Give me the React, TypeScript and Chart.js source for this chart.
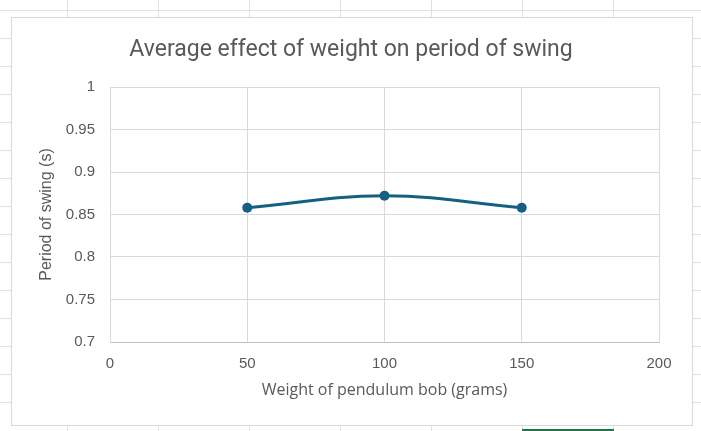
import React, { useEffect, useRef } from "react";
import { Chart, registerables } from "chart.js";

Chart.register(...registerables);

const chartTitle = "Average effect of weight on period of swing";
const xAxisTitle = "Weight of pendulum bob (grams)";
const yAxisTitle = "Period of swing (s)";
const weights = [50, 100, 150];
const periods = [0.858, 0.872, 0.858];
const xRange = [0, 200];
const xStep = 50;
const yRange = [0.7, 1];
const yStep = 0.05;

const TEXT = "#595959";
const GRID = "#d9d9d9";
const LINE = "#156082";
const SANS = '"Liberation Sans", Arial, sans-serif';

export default function App() {
  const ref = useRef<HTMLCanvasElement | null>(null);

  useEffect(() => {
    document.body.style.margin = "0";
    const canvas = ref.current;
    if (!canvas) return;
    const chart = new Chart(canvas, {
      type: "line",
      data: {
        datasets: [
          {
            data: weights.map((w, i) => ({ x: w, y: periods[i] })),
            borderColor: LINE,
            backgroundColor: LINE,
            borderWidth: 3,
            pointRadius: 5,
            pointBackgroundColor: LINE,
            pointBorderColor: LINE,
            pointBorderWidth: 0,
            tension: 0.4,
            fill: false,
          },
        ],
      },
      options: {
        responsive: false,
        animation: false,
        devicePixelRatio: 1,
        layout: { padding: { left: 31, right: 33, top: 0, bottom: 0 } },
        plugins: {
          legend: { display: false },
          tooltip: { enabled: false },
          title: {
            display: true,
            text: chartTitle,
            color: TEXT,
            font: { family: '"Roboto", sans-serif', size: 23, weight: "normal" },
            padding: { top: 18, bottom: 23.4 },
          },
        },
        scales: {
          x: {
            type: "linear",
            min: xRange[0],
            max: xRange[1],
            ticks: {
              stepSize: xStep,
              color: TEXT,
              font: { family: SANS, size: 15 },
              padding: 13,
              maxRotation: 0,
            },
            grid: { color: GRID, drawTicks: false, lineWidth: 1 },
            border: { color: "#bfbfbf", width: 1 },
            title: {
              display: true,
              text: xAxisTitle,
              color: TEXT,
              font: { family: '"Open Sans", sans-serif', size: 16 },
              padding: { top: 25, bottom: 25 },
            },
            afterFit: (scale: any) => {
              scale.height = 83;
            },
          },
          y: {
            type: "linear",
            min: yRange[0],
            max: yRange[1],
            ticks: {
              stepSize: yStep,
              color: TEXT,
              font: { family: SANS, size: 15 },
              padding: 15,
              callback: (v: any) => String(Number(Number(v).toFixed(2))),
            },
            grid: { color: GRID, drawTicks: false, lineWidth: 1 },
            border: { color: GRID, width: 1 },
            title: {
              display: true,
              text: yAxisTitle,
              color: TEXT,
              font: { family: SANS, size: 16 },
              padding: { top: -5.6, bottom: 0 },
            },
            afterFit: (scale: any) => {
              scale.width = 67;
            },
          },
        },
      },
    });
    return () => chart.destroy();
  }, []);

  return (
    <div
      style={{
        position: "fixed",
        left: 0,
        top: 0,
        width: 701,
        height: 431,
        overflow: "hidden",
        background: "#ffffff",
        backgroundImage:
          "repeating-linear-gradient(to bottom, transparent 0 27px, #e1e1e1 27px 28px), repeating-linear-gradient(to right, transparent 0 90px, #e1e1e1 90px 91px)",
        backgroundPosition: "0 -17px, -23px 0",
      }}
    >
      <div
        style={{
          position: "absolute",
          left: 522,
          top: 429,
          width: 92,
          height: 2,
          background: "#217346",
        }}
      />
      <div
        style={{
          position: "absolute",
          left: 11,
          top: 17,
          width: 680,
          height: 407,
          border: "1px solid #d9d9d9",
          background: "#ffffff",
        }}
      >
        <canvas ref={ref} width={680} height={407} style={{ display: "block" }} />
      </div>
    </div>
  );
}
